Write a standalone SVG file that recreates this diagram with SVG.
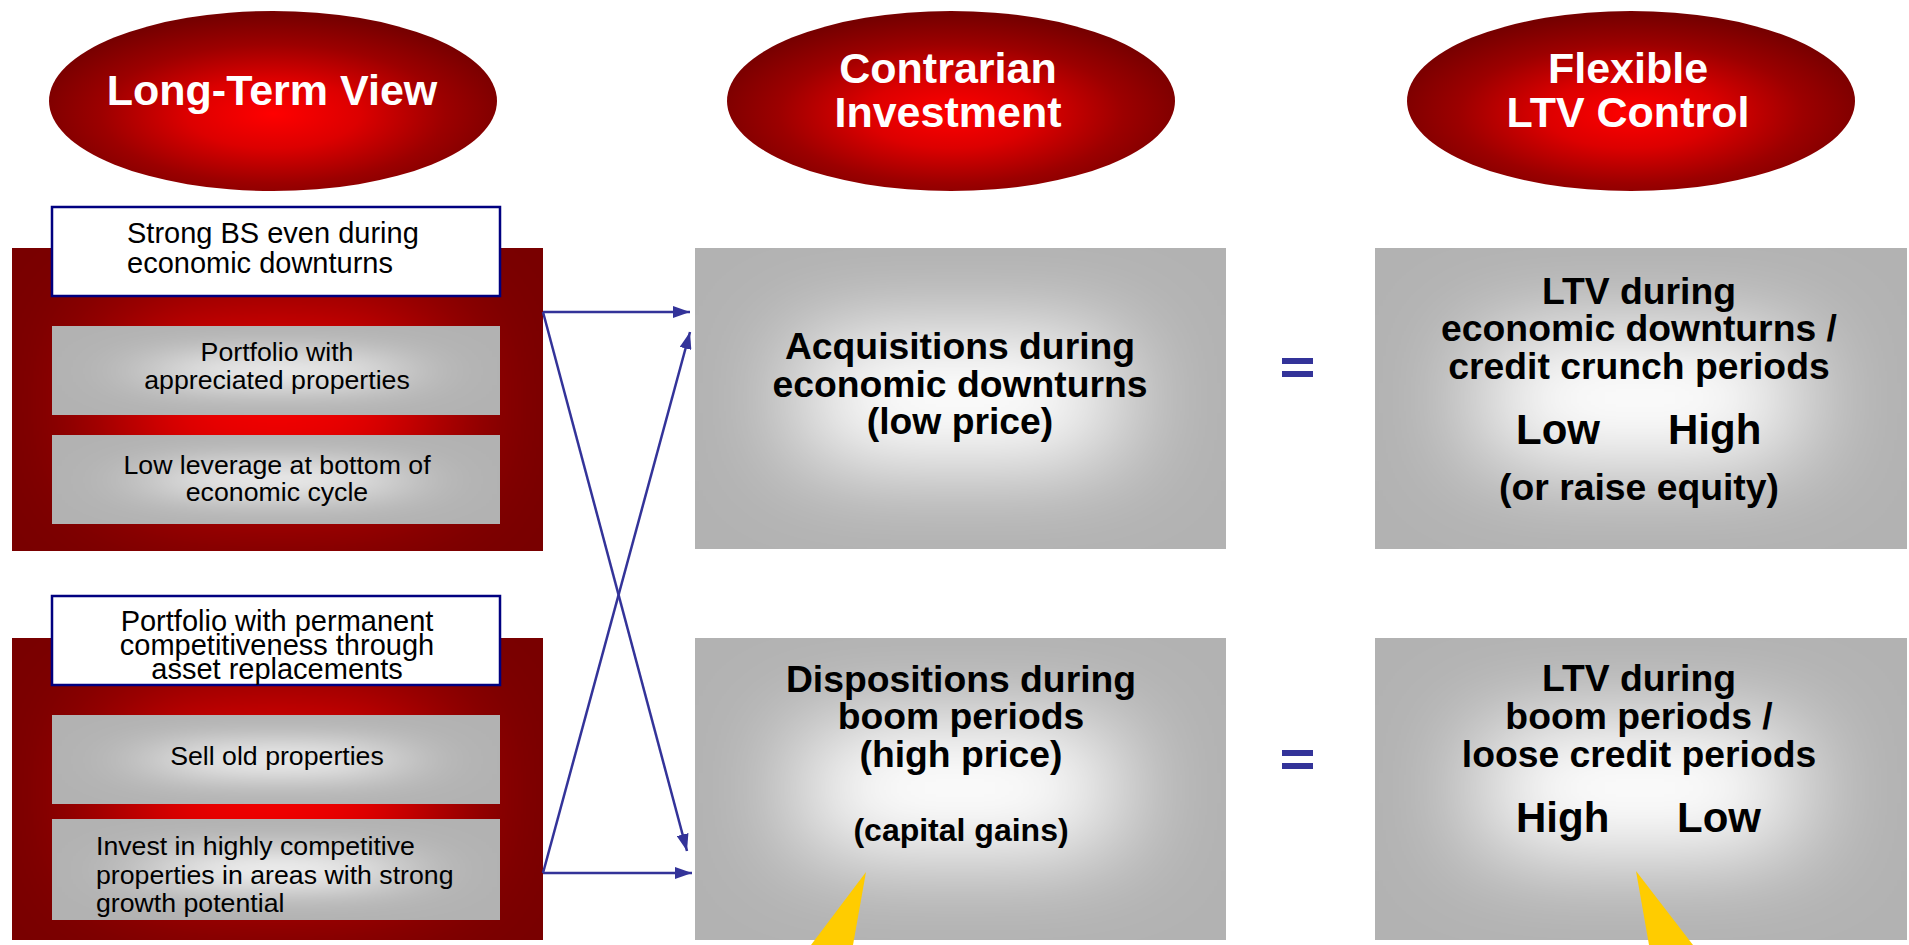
<svg xmlns="http://www.w3.org/2000/svg" width="1909" height="945" viewBox="0 0 1909 945">
  <defs>
    <style>
      .title { font-family: "Liberation Sans", Arial, sans-serif; font-weight: bold; font-size: 43px; fill: #ffffff; text-anchor: middle; }
      .boxlabel { font-family: "Liberation Sans", Arial, sans-serif; font-size: 29px; fill: #000000; }
      .mid { text-anchor: middle; }
      .item { font-family: "Liberation Sans", Arial, sans-serif; font-size: 26.7px; fill: #000000; text-anchor: middle; }
      .itemL { font-family: "Liberation Sans", Arial, sans-serif; font-size: 26.7px; fill: #000000; text-anchor: start; }
      .big { font-family: "Liberation Sans", Arial, sans-serif; font-weight: bold; font-size: 37.3px; fill: #000000; text-anchor: middle; }
      .lvl { font-family: "Liberation Sans", Arial, sans-serif; font-weight: bold; font-size: 42px; fill: #000000; }
      .note { font-family: "Liberation Sans", Arial, sans-serif; font-weight: bold; font-size: 32px; fill: #000000; text-anchor: middle; }
      .whitebox { fill: #ffffff; stroke: #000080; stroke-width: 2.5; }
      .conn { stroke: #333399; stroke-width: 2.5; fill: none; marker-end: url(#arrow); }
      .eq { fill: #333399; }
      .pointer { fill: #ffcc00; }
      .grey { fill: #b2b2b2; }
    </style>
    <radialGradient id="ovalRed" cx="0.5" cy="0.57" r="0.55">
      <stop offset="0" stop-color="#ff0000"/>
      <stop offset="0.35" stop-color="#dc0000"/>
      <stop offset="0.7" stop-color="#9c0000"/>
      <stop offset="1" stop-color="#760000"/>
    </radialGradient>
    <!-- soft glows, regions in the local space of each clipping viewport -->
    <filter id="softBig" filterUnits="userSpaceOnUse" x="-200" y="-200" width="950" height="720">
      <feGaussianBlur stdDeviation="55 42"/>
    </filter>
    <filter id="softSmall" filterUnits="userSpaceOnUse" x="-200" y="-150" width="850" height="400">
      <feGaussianBlur stdDeviation="50 16"/>
    </filter>
    <filter id="softRed" filterUnits="userSpaceOnUse" x="-200" y="-200" width="950" height="720">
      <feGaussianBlur stdDeviation="65 55"/>
    </filter>
    <marker id="arrow" markerWidth="17" markerHeight="12" refX="17" refY="6" orient="auto" markerUnits="userSpaceOnUse">
      <path d="M0,0 L17,6 L0,12 z" fill="#333399"/>
    </marker>
  </defs>

  <rect width="1909" height="945" fill="#ffffff"/>

  <!-- column headings -->
  <g id="head-longterm">
    <ellipse cx="273" cy="101" rx="224" ry="90" fill="url(#ovalRed)"/>
    <text class="title" x="272" y="105">Long-Term View</text>
  </g>
  <g id="head-contrarian">
    <ellipse cx="951" cy="101" rx="224" ry="90" fill="url(#ovalRed)"/>
    <text class="title" x="948" y="83">Contrarian</text>
    <text class="title" x="948" y="127">Investment</text>
  </g>
  <g id="head-ltv">
    <ellipse cx="1631" cy="101" rx="224" ry="90" fill="url(#ovalRed)"/>
    <text class="title" x="1628" y="83">Flexible</text>
    <text class="title" x="1628" y="127">LTV Control</text>
  </g>

  <!-- left column: strong balance sheet -->
  <g id="panel-bs">
    <svg x="12" y="248" width="531" height="303">
      <rect width="531" height="303" fill="#780000"/>
      <rect x="110" y="70" width="310" height="170" fill="#ff0000" filter="url(#softRed)"/>
    </svg>
    <rect class="whitebox" x="52" y="207" width="448" height="89"/>
    <text class="boxlabel" x="127" y="243">Strong BS even during</text>
    <text class="boxlabel" x="127" y="273">economic downturns</text>
  </g>
  <g id="item-appreciated">
    <svg x="52" y="326" width="448" height="89">
      <rect class="grey" width="448" height="89"/>
      <rect x="110" y="30" width="230" height="30" fill="#ffffff" filter="url(#softSmall)"/>
    </svg>
    <text class="item" x="277" y="361">Portfolio with</text>
    <text class="item" x="277" y="389">appreciated properties</text>
  </g>
  <g id="item-leverage">
    <svg x="52" y="435" width="448" height="89">
      <rect class="grey" width="448" height="89"/>
      <rect x="110" y="30" width="230" height="30" fill="#ffffff" filter="url(#softSmall)"/>
    </svg>
    <text class="item" x="277" y="474">Low leverage at bottom of</text>
    <text class="item" x="277" y="501">economic cycle</text>
  </g>

  <!-- left column: asset replacement -->
  <g id="panel-replace">
    <svg x="12" y="638" width="531" height="302">
      <rect width="531" height="302" fill="#780000"/>
      <rect x="110" y="70" width="310" height="170" fill="#ff0000" filter="url(#softRed)"/>
    </svg>
    <rect class="whitebox" x="52" y="596" width="448" height="89"/>
    <text class="boxlabel mid" x="277" y="631">Portfolio with permanent</text>
    <text class="boxlabel mid" x="277" y="655">competitiveness through</text>
    <text class="boxlabel mid" x="277" y="679">asset replacements</text>
  </g>
  <g id="item-sell">
    <svg x="52" y="715" width="448" height="89">
      <rect class="grey" width="448" height="89"/>
      <rect x="110" y="30" width="230" height="30" fill="#ffffff" filter="url(#softSmall)"/>
    </svg>
    <text class="item" x="277" y="765">Sell old properties</text>
  </g>
  <g id="item-invest">
    <svg x="52" y="819" width="448" height="101">
      <rect class="grey" width="448" height="101"/>
      <rect x="110" y="34" width="230" height="34" fill="#ffffff" filter="url(#softSmall)"/>
    </svg>
    <text class="itemL" x="96" y="855">Invest in highly competitive</text>
    <text class="itemL" x="96" y="884">properties in areas with strong</text>
    <text class="itemL" x="96" y="912">growth potential</text>
  </g>

  <!-- middle column -->
  <g id="acquisitions">
    <svg x="695" y="248" width="531" height="301">
      <rect class="grey" width="531" height="301"/>
      <rect x="110" y="80" width="310" height="140" fill="#ffffff" filter="url(#softBig)"/>
    </svg>
    <text class="big" x="960" y="359">Acquisitions during</text>
    <text class="big" x="960" y="397">economic downturns</text>
    <text class="big" x="960" y="434">(low price)</text>
  </g>
  <g id="dispositions">
    <svg x="695" y="638" width="531" height="302">
      <rect class="grey" width="531" height="302"/>
      <rect x="110" y="80" width="310" height="140" fill="#ffffff" filter="url(#softBig)"/>
    </svg>
    <text class="big" x="961" y="692">Dispositions during</text>
    <text class="big" x="961" y="729">boom periods</text>
    <text class="big" x="961" y="767">(high price)</text>
    <text class="note" x="961" y="841">(capital gains)</text>
    <polygon class="pointer" points="866,872 811,945 853,945"/>
  </g>

  <!-- equals signs -->
  <g id="eq-top">
    <rect class="eq" x="1282" y="358" width="31" height="6"/>
    <rect class="eq" x="1282" y="371" width="31" height="6"/>
  </g>
  <g id="eq-bottom">
    <rect class="eq" x="1282" y="750" width="31" height="6"/>
    <rect class="eq" x="1282" y="763" width="31" height="6"/>
  </g>

  <!-- right column -->
  <g id="ltv-downturn">
    <svg x="1375" y="248" width="532" height="301">
      <rect class="grey" width="532" height="301"/>
      <rect x="110" y="80" width="310" height="140" fill="#ffffff" filter="url(#softBig)"/>
    </svg>
    <text class="big" x="1639" y="304">LTV during</text>
    <text class="big" x="1639" y="341">economic downturns /</text>
    <text class="big" x="1639" y="379">credit crunch periods</text>
    <text class="lvl" x="1516" y="444">Low</text>
    <text class="lvl" x="1668" y="444">High</text>
    <text class="big" x="1639" y="500">(or raise equity)</text>
  </g>
  <g id="ltv-boom">
    <svg x="1375" y="638" width="532" height="302">
      <rect class="grey" width="532" height="302"/>
      <rect x="110" y="80" width="310" height="140" fill="#ffffff" filter="url(#softBig)"/>
    </svg>
    <text class="big" x="1639" y="691">LTV during</text>
    <text class="big" x="1639" y="729">boom periods /</text>
    <text class="big" x="1639" y="767">loose credit periods</text>
    <text class="lvl" x="1516" y="832">High</text>
    <text class="lvl" x="1677" y="832">Low</text>
    <polygon class="pointer" points="1636,871 1649,945 1693,945"/>
  </g>

  <!-- connectors -->
  <g id="connectors">
    <line class="conn" x1="543" y1="312" x2="690" y2="312"/>
    <line class="conn" x1="543" y1="312" x2="687" y2="851"/>
    <line class="conn" x1="543" y1="873" x2="692" y2="873"/>
    <line class="conn" x1="543" y1="873" x2="690" y2="332"/>
  </g>
</svg>
